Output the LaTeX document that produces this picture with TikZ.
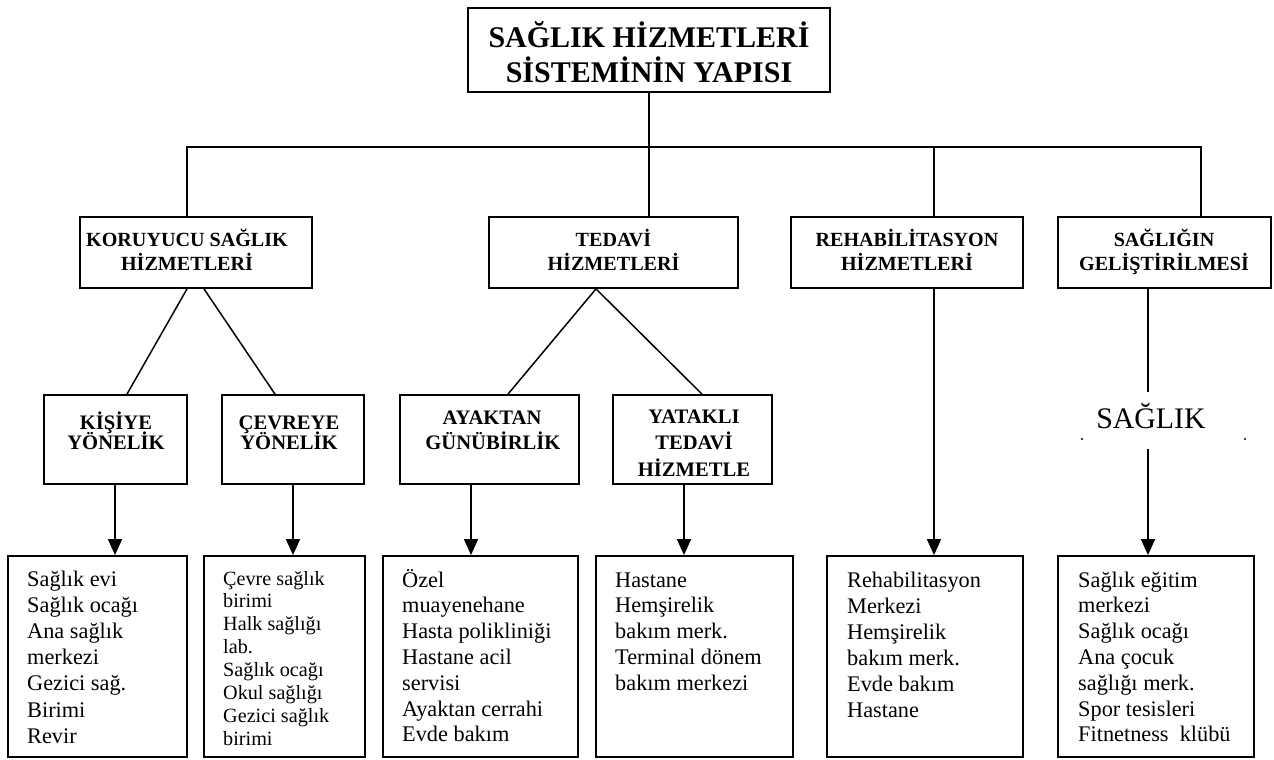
\documentclass[tikz,border=0pt]{standalone}
\usepackage{fontspec}
\setmainfont{Liberation Serif}
\usetikzlibrary{arrows.meta}
\begin{document}
\begin{tikzpicture}[x=1pt,y=-1pt,
  box/.style={draw, line width=1.8pt, inner sep=0pt, rectangle},
  conn/.style={line width=1.5pt},
  arr/.style={line width=1.5pt, -{Triangle[length=16pt,width=14pt]}},
  titletxt/.style={inner sep=0pt, anchor=base, font=\fontsize{30}{34}\selectfont\bfseries},
  headtxt/.style={inner sep=0pt, anchor=base, font=\fontsize{20.1}{24}\selectfont\bfseries},
  subtxt/.style={inner sep=0pt, anchor=base, font=\fontsize{20.6}{24}\selectfont\bfseries},
  itemtxt/.style={inner sep=0pt, anchor=base west, font=\fontsize{22.3}{26}\selectfont},
  smalltxt/.style={inner sep=0pt, anchor=base west, font=\fontsize{20.2}{23}\selectfont}]
\useasboundingbox (0,0) rectangle (1274,760);

% boxes
\node[box, minimum width=362pt, minimum height=84pt] (title) at (649,50) {};
\node[box, minimum width=232pt, minimum height=71pt] (kor) at (196,252.5) {};
\node[box, minimum width=249pt, minimum height=71pt] (ted) at (613.5,252.5) {};
\node[box, minimum width=232pt, minimum height=71pt] (reh) at (907,252.5) {};
\node[box, minimum width=213pt, minimum height=71pt] (sag) at (1164.5,252.5) {};
\node[box, minimum width=143pt, minimum height=89pt] (kisi) at (115.5,439.5) {};
\node[box, minimum width=142pt, minimum height=89pt] (cevre) at (293,439.5) {};
\node[box, minimum width=179pt, minimum height=89pt] (ayak) at (489.5,439.5) {};
\node[box, minimum width=159pt, minimum height=89pt] (yatak) at (692.5,439.5) {};
\node[box, minimum width=179pt, minimum height=201pt] (b1) at (97.5,656.5) {};
\node[box, minimum width=161pt, minimum height=201pt] (b2) at (284.5,656.5) {};
\node[box, minimum width=195pt, minimum height=201pt] (b3) at (480.5,656.5) {};
\node[box, minimum width=197pt, minimum height=201pt] (b4) at (694.5,656.5) {};
\node[box, minimum width=196pt, minimum height=201pt] (b5) at (925,656.5) {};
\node[box, minimum width=196pt, minimum height=201pt] (b6) at (1156,656.5) {};

% title and heading texts
\node[titletxt] (t1) at (649,48) {SAĞLIK HİZMETLERİ};
\node[titletxt] (t2) at (649,82) {SİSTEMİNİN YAPISI};
\node[headtxt] (kor1) at (187,246) {KORUYUCU SAĞLIK};
\node[headtxt] (kor2) at (187,270.5) {HİZMETLERİ};
\node[headtxt] (ted1) at (613.5,246) {TEDAVİ};
\node[headtxt] (ted2) at (613.5,270.5) {HİZMETLERİ};
\node[headtxt] (reh1) at (907,246) {REHABİLİTASYON};
\node[headtxt] (reh2) at (907,270.5) {HİZMETLERİ};
\node[headtxt] (sag1) at (1164,246) {SAĞLIĞIN};
\node[headtxt] (sag2) at (1164,270.5) {GELİŞTİRİLMESİ};
\node[subtxt] (kisi1) at (116,429) {KİŞİYE};
\node[subtxt] (kisi2) at (116,449) {YÖNELİK};
\node[subtxt] (cevre1) at (289,429) {ÇEVREYE};
\node[subtxt] (cevre2) at (289,449) {YÖNELİK};
\node[subtxt] (ayak1) at (492,424) {AYAKTAN};
\node[subtxt] (ayak2) at (493,449) {GÜNÜBİRLİK};
\node[subtxt] (yatak1) at (694,423) {YATAKLI};
\node[subtxt] (yatak2) at (694,449) {TEDAVİ};
\node[subtxt] (yatak3) at (694,476) {HİZMETLE};
\node[inner sep=0pt, anchor=base, font=\fontsize{29.8}{34}\selectfont] (saglik) at (1151,428) {SAĞLIK};

% item lists
\foreach [count=\i] \txt in {Sağlık evi, Sağlık ocağı, Ana sağlık, merkezi, Gezici sağ., Birimi, Revir}
  \node[itemtxt] (b1-\i) at (27,{586+(\i-1)*26.2}) {\txt};
\foreach [count=\i] \txt in {Çevre sağlık, birimi, Halk sağlığı, lab., Sağlık ocağı, Okul sağlığı, Gezici sağlık, birimi}
  \node[smalltxt] (b2-\i) at (223,{585+(\i-1)*22.9}) {\txt};
\foreach [count=\i] \txt in {Özel, muayenehane, Hasta polikliniği, Hastane acil, servisi, Ayaktan cerrahi, Evde bakım}
  \node[itemtxt] (b3-\i) at (402,{587+(\i-1)*25.8}) {\txt};
\foreach [count=\i] \txt in {Hastane, Hemşirelik, bakım merk., Terminal dönem, bakım merkezi}
  \node[itemtxt] (b4-\i) at (615,{587+(\i-1)*25.8}) {\txt};
\foreach [count=\i] \txt in {Rehabilitasyon, Merkezi, Hemşirelik, bakım merk., Evde bakım, Hastane}
  \node[itemtxt] (b5-\i) at (847,{587+(\i-1)*26}) {\txt};
\foreach [count=\i] \txt in {Sağlık eğitim, merkezi, Sağlık ocağı, Ana çocuk, sağlığı merk., Spor tesisleri, Fitnetness~ klübü}
  \node[itemtxt] (b6-\i) at (1078,{587+(\i-1)*25.8}) {\txt};

% helper coordinates
\coordinate (busL) at (187,147);
\coordinate (busR) at (1201,147);
\coordinate (xr) at (934,147);
\coordinate (kd1) at (187,0);
\coordinate (kd2) at (204,0);
\coordinate (ke1) at (127,0);
\coordinate (ke2) at (275,0);
\coordinate (td) at (596,0);
\coordinate (te1) at (508,0);
\coordinate (te2) at (702,0);
\coordinate (ax1) at (115,0);
\coordinate (ax2) at (293,0);
\coordinate (ax3) at (471,0);
\coordinate (ax4) at (684,0);
\coordinate (ax6) at (1148,0);
\coordinate (sgA) at (1148,392);
\coordinate (sgB) at (1148,449);

% connectors
\draw[conn] (title.south) -- (title.south |- busL);
\draw[conn] (kor.north -| busL) -- (busL) -- (busR) -- (sag.north -| busR);
\draw[conn] (title.south |- busL) -- (ted.north -| title.south);
\draw[conn] (xr) -- (reh.north -| xr);
\draw[conn] (kor.south -| kd1) -- (kisi.north -| ke1);
\draw[conn] (kor.south -| kd2) -- (cevre.north -| ke2);
\draw[conn] (ted.south -| td) -- (ayak.north -| te1);
\draw[conn] (ted.south -| td) -- (yatak.north -| te2);
\draw[arr] (kisi.south -| ax1) -- (b1.north -| ax1);
\draw[arr] (cevre.south -| ax2) -- (b2.north -| ax2);
\draw[arr] (ayak.south -| ax3) -- (b3.north -| ax3);
\draw[arr] (yatak.south -| ax4) -- (b4.north -| ax4);
\draw[arr] (reh.south -| xr) -- (b5.north -| xr);
\draw[conn] (sag.south -| ax6) -- (sgA);
\draw[arr] (sgB) -- (b6.north -| ax6);
\fill (1082,439) circle (1.2pt);
\fill (1245,439) circle (1.2pt);
\end{tikzpicture}
\end{document}
